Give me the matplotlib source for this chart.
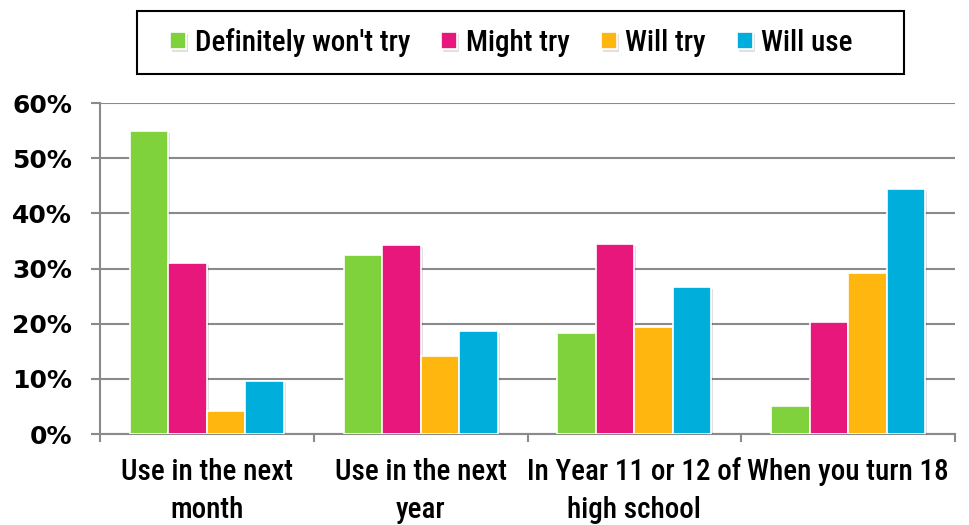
import numpy as np
import matplotlib.pyplot as plt
import matplotlib.patheffects as pe
from matplotlib import font_manager
from matplotlib.patches import Rectangle
from matplotlib.ticker import FixedLocator, PercentFormatter

# Survey answers, share of respondents per timeframe
categories = ["Use in the next\nmonth", "Use in the next\nyear",
              "In Year 11 or 12 of\nhigh school", "When you turn 18"]
series = ["Definitely won't try", "Might try", "Will try", "Will use"]
wont_try = [55.0, 32.4, 18.4, 5.1]
might_try = [31.0, 34.2, 34.4, 20.3]
will_try = [4.2, 14.1, 19.4, 29.2]
will_use = [9.6, 18.7, 26.7, 44.4]
colors = ["#80d23c", "#e8177b", "#ffb60f", "#00aedb"]

values = [wont_try, might_try, will_try, will_use]

# pick a narrow face if one is installed
names = {f.name for f in font_manager.fontManager.ttflist}
narrow = [n for n in ["Roboto Condensed", "Liberation Sans Narrow", "Open Sans Condensed",
                      "DejaVu Sans Condensed"] if n in names]
label_font = narrow + ["DejaVu Sans"]

fig = plt.figure(figsize=(9.69, 5.25), dpi=100)
ax = fig.add_axes([0.1032, 0.1733, 0.8824, 0.6305])

x = np.arange(len(categories))
width = 0.18
shadow = [pe.SimplePatchShadow(offset=(1.5, -1.5), shadow_rgbFace="#000000", alpha=0.12),
          pe.Normal()]
for i, (name, vals, col) in enumerate(zip(series, values, colors)):
    bars = ax.bar(x + (i - 1.5) * width, vals, width, color=col, edgecolor="white",
                  linewidth=1.2, label=name, zorder=3)
    for b in bars:
        b.set_path_effects(shadow)

ax.set_xlim(-0.5, len(categories) - 0.5)
ax.set_ylim(0, 60)
ax.yaxis.set_major_locator(FixedLocator(range(0, 61, 10)))
ax.yaxis.set_major_formatter(PercentFormatter(decimals=0))
ax.grid(axis="y", color="#8a8a8a", linewidth=1.5, zorder=0)

ax.set_xticks(x)
ax.set_xticklabels(categories, fontsize=21, family=label_font, stretch="condensed",
                   weight="medium", linespacing=1.45)
ax.set_xticks(np.arange(len(categories) + 1) - 0.5, minor=True)
ax.tick_params(axis="x", which="major", length=0, pad=17)
ax.tick_params(axis="x", which="minor", length=6, width=1.5, color="#8a8a8a")
ax.tick_params(axis="y", length=6.5, width=1.5, color="#8a8a8a", labelsize=18, pad=13.5)
for t in ax.get_yticklabels():
    t.set_fontweight("bold")

for side in ["top", "right"]:
    ax.spines[side].set_visible(False)
for side in ["left", "bottom"]:
    ax.spines[side].set_color("#8a8a8a")
    ax.spines[side].set_linewidth(1.5)

# legend entries without their own frame, boxed by a plain rectangle
leg = fig.legend(loc="center", bbox_to_anchor=(0.528, 0.9190), ncol=4, frameon=False,
                 prop={"family": label_font, "size": 21, "stretch": "condensed",
                       "weight": "medium"},
                 handlelength=0.55, handleheight=0.55, handletextpad=0.3, columnspacing=1.05,
                 borderpad=0.3, borderaxespad=0)
fig.add_artist(Rectangle((137 / 969, 1 - 74 / 525), 767 / 969, 63 / 525,
                         transform=fig.transFigure, fill=False, edgecolor="black",
                         linewidth=1.5))

fig.savefig("out.png", dpi=100)
